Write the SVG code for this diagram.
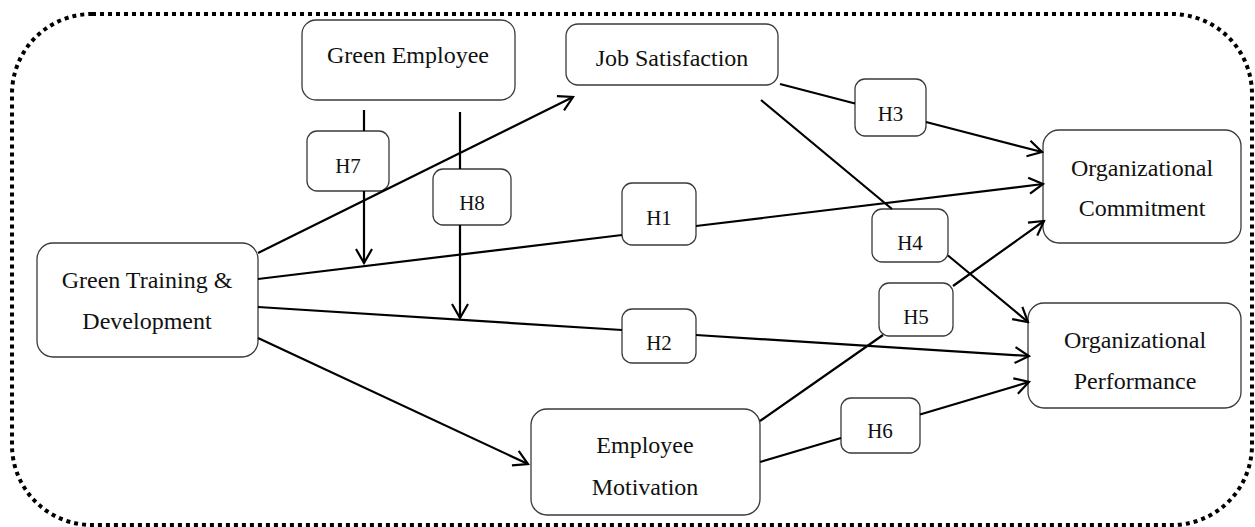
<svg xmlns="http://www.w3.org/2000/svg" width="1255" height="527" viewBox="0 0 1255 527">
<style>
.node{fill:#fff;stroke:#3a3a3a;stroke-width:1.3}
.t{font-family:"Liberation Serif","Times New Roman",serif;font-size:24px;fill:#111;text-anchor:middle}
.h{font-family:"Liberation Serif","Times New Roman",serif;font-size:21px;fill:#111;text-anchor:middle}
.c{fill:none;stroke:#000;stroke-width:2.2;marker-end:url(#arr)}
.border{fill:none;stroke:#000;stroke-width:4;stroke-dasharray:4 4}
</style>
<defs>
<marker id="arr" viewBox="-17 -10 19 20" refX="0" refY="0" markerWidth="19" markerHeight="20" markerUnits="userSpaceOnUse" orient="auto">
<path d="M-14,-8 L0,0 L-14,8" fill="none" stroke="#000" stroke-width="2.2"/>
</marker>
</defs>
<rect class="border" x="12" y="14" width="1240" height="511" rx="80" ry="80"/>
<g id="nodes">
<g id="green-employee"><rect class="node" x="302" y="20" width="213" height="80" rx="14"/><text class="t" x="408" y="63">Green Employee</text></g>
<g id="job-satisfaction"><rect class="node" x="566" y="24" width="212" height="61" rx="12"/><text class="t" x="672" y="66">Job Satisfaction</text></g>
<g id="green-training"><rect class="node" x="37" y="243" width="221" height="114" rx="16"/><text class="t" x="147" y="288">Green Training &amp;</text><text class="t" x="147" y="329">Development</text></g>
<g id="employee-motivation"><rect class="node" x="531" y="409" width="229" height="106" rx="16"/><text class="t" x="645" y="453">Employee</text><text class="t" x="645" y="495">Motivation</text></g>
<g id="org-commitment"><rect class="node" x="1043" y="130" width="198" height="113" rx="16"/><text class="t" x="1142" y="176">Organizational</text><text class="t" x="1142" y="216">Commitment</text></g>
<g id="org-performance"><rect class="node" x="1028" y="303" width="213" height="105" rx="16"/><text class="t" x="1135" y="348">Organizational</text><text class="t" x="1135" y="389">Performance</text></g>
<g id="h7"><rect class="node" x="307" y="131" width="82" height="60" rx="10"/><text class="h" x="348" y="173">H7</text></g>
<g id="h8"><rect class="node" x="433" y="169" width="78" height="56" rx="10"/><text class="h" x="472" y="210">H8</text></g>
<g id="h1"><rect class="node" x="622" y="183" width="74" height="62" rx="10"/><text class="h" x="659" y="225">H1</text></g>
<g id="h2"><rect class="node" x="622" y="309" width="74" height="54" rx="10"/><text class="h" x="659" y="350">H2</text></g>
<g id="h3"><rect class="node" x="855" y="79" width="71" height="57" rx="10"/><text class="h" x="890.5" y="121">H3</text></g>
<g id="h4"><rect class="node" x="872" y="209" width="76" height="53" rx="10"/><text class="h" x="910" y="250">H4</text></g>
<g id="h5"><rect class="node" x="879" y="283" width="74" height="53" rx="10"/><text class="h" x="916" y="324">H5</text></g>
<g id="h6"><rect class="node" x="841" y="398" width="79" height="55" rx="10"/><text class="h" x="880" y="438">H6</text></g>
</g>
<g id="connectors">
<path class="c" d="M364,110 L364,131 M364,191 L364,263"/>
<path class="c" d="M460,112 L460,169 M460,225 L460,318"/>
<path class="c" d="M258,253 L573,97"/>
<path class="c" d="M258,279 L622,235 M696,226 L1043,184"/>
<path class="c" d="M258,307 L622,330 M696,335 L1029,356"/>
<path class="c" d="M258,338 L528,464"/>
<path class="c" d="M780,84 L855,103.5 M926,122 L1042,152"/>
<path class="c" d="M761,100 L892,209 M948,255.5 L1028,322"/>
<path class="c" d="M760,421 L883,335 M953,286 L1044,221"/>
<path class="c" d="M760,462 L841,438 M920,414.5 L1029,382"/>
</g>
</svg>
